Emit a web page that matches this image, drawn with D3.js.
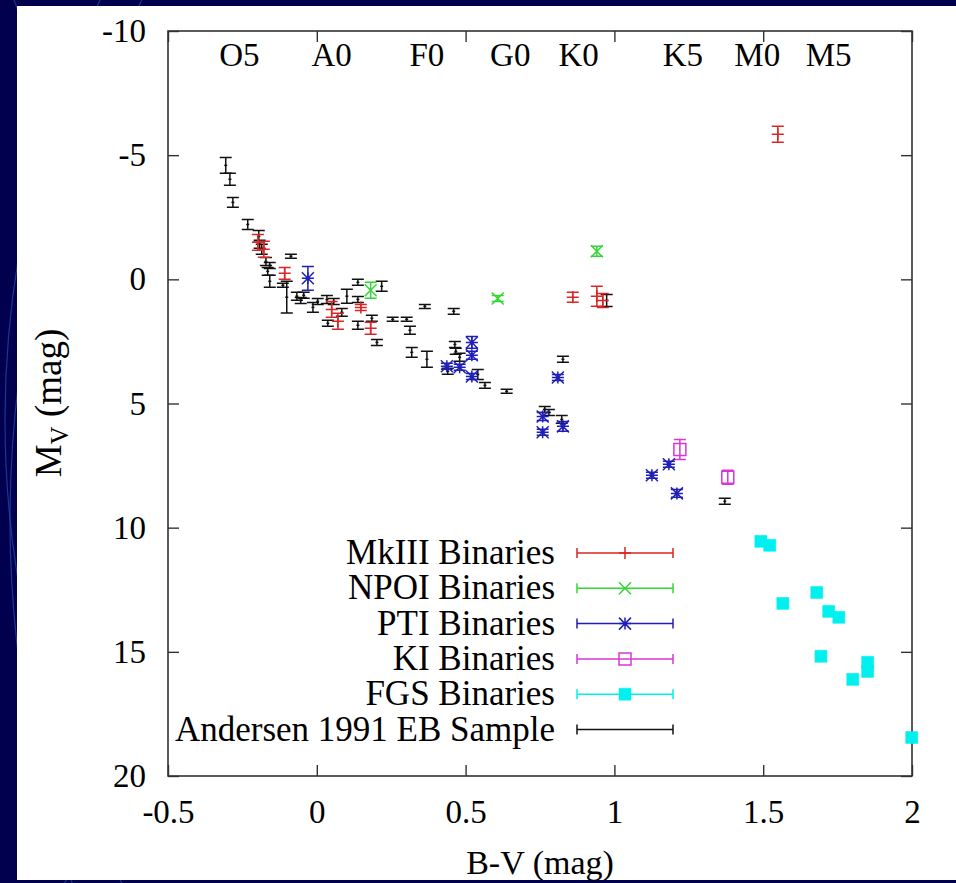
<!DOCTYPE html>
<html>
<head>
<meta charset="utf-8">
<script src="https://cdn.jsdelivr.net/npm/d3@7"></script>
</head>
<body style="margin:0;background:#00004e">
<svg id="chart" width="956" height="883" font-family="Liberation Serif"></svg>
<script>
// Each star: [B-V (mag), M_V (mag), error in M_V (mag)]
const mkIII = [
  [-0.198, -1.49, 0.32], [-0.178, -1.21, 0.32], [-0.108, -0.24, 0.24],
  [0.050, 1.21, 0.32], [0.071, 1.69, 0.32], [0.148, 1.13, 0.12],
  [0.181, 1.97, 0.24], [0.860, 0.72, 0.20], [0.941, 0.68, 0.40],
  [0.961, 0.85, 0.28], [1.549, -5.84, 0.32]
];
const npoi = [
  [0.181, 0.44, 0.32], [0.608, 0.77, 0.12], [0.941, -1.13, 0.20]
];
const pti = [
  [-0.030, -0.04, 0.48], [0.437, 3.50, 0.12], [0.480, 3.54, 0.12],
  [0.521, 2.54, 0.24], [0.521, 3.06, 0.16], [0.521, 3.91, 0.12],
  [0.810, 3.95, 0.12], [0.759, 5.52, 0.16], [0.759, 6.16, 0.12],
  [0.827, 5.92, 0.20], [1.126, 7.89, 0.12], [1.183, 7.45, 0.12],
  [1.210, 8.62, 0.16]
];
const ki = [
  [1.220, 6.85, 0.40], [1.381, 7.97, 0.28]
];
const fgs = [
  [1.492, 10.55, 0.15], [1.522, 10.71, 0.15], [1.566, 13.05, 0.15],
  [1.680, 12.61, 0.15], [1.720, 13.37, 0.15], [1.754, 13.61, 0.15],
  [1.694, 15.18, 0.15], [1.801, 16.11, 0.20], [1.851, 15.42, 0.15],
  [1.851, 15.79, 0.15], [1.999, 18.45, 0.15]
];
const andersen = [
  [-0.306, -4.59, 0.32], [-0.292, -4.03, 0.24], [-0.282, -3.10, 0.20],
  [-0.232, -2.21, 0.20], [-0.195, -1.73, 0.24], [-0.192, -1.41, 0.16],
  [-0.185, -1.21, 0.20], [-0.171, -0.72, 0.16], [-0.158, -0.56, 0.12],
  [-0.165, -0.32, 0.16], [-0.158, 0.08, 0.24], [-0.087, -0.93, 0.08],
  [-0.114, 0.24, 0.08], [-0.101, 0.72, 0.64], [-0.067, 0.68, 0.16],
  [-0.054, 0.85, 0.12], [-0.044, 0.64, 0.12], [-0.013, 1.13, 0.20],
  [0.003, 0.89, 0.12], [0.034, 0.81, 0.16], [0.057, 0.89, 0.12],
  [0.037, 1.77, 0.12], [0.084, 1.33, 0.16], [0.101, 0.68, 0.28],
  [0.138, 0.12, 0.12], [0.138, 0.81, 0.12], [0.218, 0.28, 0.20],
  [0.185, 1.57, 0.12], [0.138, 1.85, 0.16], [0.202, 2.54, 0.12],
  [0.255, 1.61, 0.08], [0.302, 1.61, 0.08], [0.313, 2.05, 0.16],
  [0.319, 2.94, 0.20], [0.363, 1.09, 0.08], [0.460, 1.29, 0.12],
  [0.370, 3.22, 0.32], [0.464, 2.62, 0.12], [0.467, 2.90, 0.12],
  [0.480, 3.14, 0.16], [0.440, 3.70, 0.12], [0.541, 3.83, 0.20],
  [0.565, 4.27, 0.12], [0.638, 4.51, 0.08], [0.827, 3.22, 0.12],
  [0.766, 5.24, 0.12], [0.780, 5.36, 0.12], [0.823, 5.64, 0.16],
  [0.974, 0.85, 0.24], [1.371, 8.94, 0.12]
];

// Spectral-type labels along the top, placed at their B-V colour
const spectralTypes = ["O5", "A0", "F0", "G0", "K0", "K5", "M0", "M5"];
const spectralBV    = [-0.26, 0.05, 0.37, 0.65, 0.88, 1.23, 1.48, 1.72];

const xTicks = [-0.5, 0, 0.5, 1, 1.5, 2];
const yTicks = [-10, -5, 0, 5, 10, 15, 20];

const legendLabels = ["MkIII Binaries", "NPOI Binaries", "PTI Binaries",
                      "KI Binaries", "FGS Binaries", "Andersen 1991 EB Sample"];

// ---- drawing ----
const svg = d3.select("#chart");
const W = 956, H = 883;
const box = { left: 168, right: 912, top: 31, bottom: 776 };

// every label goes through this so it gets the serif face
function serif(sel, size) {
  return sel.attr("font-family", "Liberation Serif")
    .style("font-family", () => '"Liberation Serif"')
    .attr("font-size", size);
}

// slide backdrop with faint arcs, and the white panel on top
svg.append("rect").attr("width", W).attr("height", H).attr("fill", "#00004e");
const arcs = svg.append("g").attr("fill", "none").attr("stroke", "#2a4cb0")
  .attr("stroke-opacity", 0.7).attr("stroke-width", 1.2);
[[980, 420, 975], [1100, 520, 1090], [820, -300, 860], [700, 1300, 760]].forEach(([cx, cy, r]) =>
  arcs.append("circle").attr("cx", cx).attr("cy", cy).attr("r", r));
svg.append("rect").attr("x", 17).attr("y", 6).attr("width", W - 17).attr("height", 874).attr("fill", "#fff");

const x = d3.scaleLinear().domain([-0.5, 2]).range([box.left, box.right]);
const y = d3.scaleLinear().domain([-10, 20]).range([box.top, box.bottom]);

const fmt = d => String(d);
const axisColor = "#333";

function styleAxis(g, fontSize) {
  g.attr("font-family", "Liberation Serif").attr("font-size", fontSize);
  g.select(".domain").remove();
  g.selectAll(".tick line").attr("stroke", axisColor).attr("stroke-width", 1.4);
  serif(g.selectAll(".tick text"), fontSize).attr("fill", "#000");
}

svg.append("g").attr("transform", `translate(0,${box.bottom})`)
  .call(d3.axisBottom(x).tickValues(xTicks).tickFormat(fmt).tickSize(-11).tickPadding(24))
  .call(g => styleAxis(g, 33));
svg.append("g").attr("transform", `translate(0,${box.top})`)
  .call(d3.axisTop(x).tickValues(xTicks).tickFormat("").tickSize(-11))
  .call(g => styleAxis(g, 33));
svg.append("g").attr("transform", `translate(${box.left},0)`)
  .call(d3.axisLeft(y).tickValues(yTicks).tickFormat(fmt).tickSize(-11).tickPadding(22))
  .call(g => styleAxis(g, 33));
svg.append("g").attr("transform", `translate(${box.right},0)`)
  .call(d3.axisRight(y).tickValues(yTicks).tickFormat("").tickSize(-11))
  .call(g => styleAxis(g, 33));

// frame
svg.append("rect").attr("x", box.left).attr("y", box.top)
  .attr("width", box.right - box.left).attr("height", box.bottom - box.top)
  .attr("fill", "none").attr("stroke", axisColor).attr("stroke-width", 1.6);

// spectral types
serif(svg.append("g").selectAll("text").data(spectralTypes).join("text"), 33)
  .attr("x", (d, i) => x(spectralBV[i])).attr("y", 66)
  .attr("text-anchor", "middle").text(d => d);

// axis titles
serif(svg.append("text"), 34).attr("x", 540).attr("y", 874)
  .attr("text-anchor", "middle").text("B-V (mag)");
const yt = serif(svg.append("text"), 37).attr("transform", "translate(61,403) rotate(-90)")
  .attr("text-anchor", "middle");
yt.append("tspan").text("M");
yt.append("tspan").attr("font-size", 25).attr("dy", 7).text("V");
yt.append("tspan").attr("dy", -7).text(" (mag)");

// point markers
const S = 6;
const markers = {
  dot:    (cx, cy) => `M${cx - 1.5},${cy}h3`,
  plus:   (cx, cy) => `M${cx - S},${cy}h${2 * S}M${cx},${cy - S}v${2 * S}`,
  cross:  (cx, cy) => `M${cx - S},${cy - S}l${2 * S},${2 * S}M${cx - S},${cy + S}l${2 * S},${-2 * S}`,
  star:   (cx, cy) => markers.plus(cx, cy) + markers.cross(cx, cy),
  square: (cx, cy) => `M${cx - S},${cy - S}h${2 * S}v${2 * S}h${-2 * S}Z`
};

const series = [
  { data: mkIII,    color: "#d92626", marker: "plus",   fill: false },
  { data: npoi,     color: "#33d633", marker: "cross",  fill: false },
  { data: pti,      color: "#1f1fb8", marker: "star",   fill: false },
  { data: ki,       color: "#d936d9", marker: "square", fill: false },
  { data: fgs,      color: "#00f0f0", marker: "square", fill: true  },
  { data: andersen, color: "#111111", marker: "dot",    fill: false }
];

const capW = 6;
function errorBarPath(d) {
  const cx = x(d[0]), y1 = y(d[1] - d[2]), y2 = y(d[1] + d[2]);
  return `M${cx - capW},${y1}h${2 * capW}M${cx},${y1}V${y2}M${cx - capW},${y2}h${2 * capW}`;
}

const plot = svg.append("g");
// draw in reverse so that Andersen (black) sits underneath
series.slice().reverse().forEach(s => {
  const g = plot.append("g");
  g.selectAll("path.err").data(s.data).join("path").attr("class", "err")
    .attr("d", errorBarPath).attr("fill", "none")
    .attr("stroke", s.color).attr("stroke-width", 1.5);
  g.selectAll("path.mk").data(s.data).join("path").attr("class", "mk")
    .attr("d", d => markers[s.marker](x(d[0]), y(d[1])))
    .attr("fill", s.fill ? s.color : "none")
    .attr("stroke", s.color).attr("stroke-width", s.fill ? 0.5 : 1.5);
});

// legend
const legend = svg.append("g");
series.forEach((s, i) => {
  const ly = 553 + i * 35.3;
  serif(legend.append("text"), 35).attr("x", 555).attr("y", ly + 11)
    .attr("text-anchor", "end").text(legendLabels[i]);
  legend.append("path")
    .attr("d", `M577,${ly}H673M577,${ly - 5}v10M673,${ly - 5}v10`)
    .attr("fill", "none").attr("stroke", s.color).attr("stroke-width", 1.5);
  if (s.marker !== "dot") {
    legend.append("path").attr("d", markers[s.marker](625, ly))
      .attr("fill", s.fill ? s.color : "none")
      .attr("stroke", s.color).attr("stroke-width", s.fill ? 0.5 : 1.5);
  }
});
</script>
</body>
</html>
